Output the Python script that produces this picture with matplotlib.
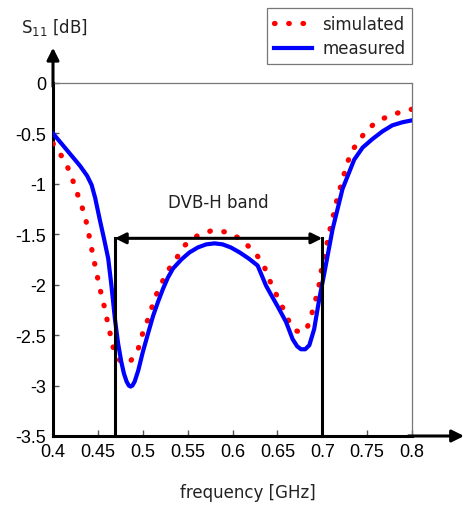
import matplotlib.pyplot as plt

# measured S11 (blue, solid)
meas_f = [0.400, 0.415, 0.430, 0.438, 0.443, 0.447, 0.452, 0.457, 0.4615, 0.465,
          0.469, 0.4725, 0.476, 0.479, 0.482, 0.4845, 0.4865, 0.4885, 0.491, 0.495,
          0.500, 0.506, 0.5115, 0.517, 0.5226, 0.528, 0.5337, 0.543, 0.552, 0.5615,
          0.5707, 0.580, 0.589, 0.598, 0.608, 0.618, 0.628, 0.6374, 0.643, 0.650,
          0.6597, 0.667, 0.672, 0.6763, 0.681, 0.6856, 0.691, 0.6967, 0.702, 0.7115,
          0.7226, 0.7356, 0.745, 0.756, 0.767, 0.778, 0.789, 0.800]
meas_s11 = [-0.50, -0.66, -0.82, -0.92, -1.01, -1.14, -1.35, -1.55, -1.74, -2.00,
            -2.34, -2.58, -2.76, -2.88, -2.96, -3.00, -3.01, -3.00, -2.96, -2.85,
            -2.67, -2.48, -2.31, -2.17, -2.04, -1.93, -1.84, -1.75, -1.68, -1.63,
            -1.60, -1.59, -1.60, -1.63, -1.68, -1.74, -1.81, -2.01, -2.10, -2.21,
            -2.37, -2.54, -2.61, -2.64, -2.64, -2.60, -2.44, -2.14, -1.90, -1.45,
            -1.05, -0.76, -0.64, -0.555, -0.48, -0.42, -0.39, -0.37]

# simulated S11 (red, dotted)
sim_f = [0.400, 0.4115, 0.419, 0.4245, 0.430, 0.4356, 0.439, 0.445, 0.4485, 0.452,
         0.456, 0.4596, 0.4633, 0.467, 0.4744, 0.480, 0.4856, 0.4948, 0.500, 0.508,
         0.513, 0.5207, 0.528, 0.5374, 0.5467, 0.5615, 0.578, 0.595, 0.6096, 0.6226,
         0.6337, 0.640, 0.6467, 0.654, 0.6615, 0.670, 0.676, 0.682, 0.6874, 0.692,
         0.696, 0.6985, 0.704, 0.7096, 0.7133, 0.717, 0.722, 0.7263, 0.732, 0.7404,
         0.750, 0.7633, 0.779, 0.795, 0.800]
sim_s11 = [-0.60, -0.75, -0.885, -1.03, -1.17, -1.315, -1.46, -1.73, -1.88, -2.03,
           -2.17, -2.32, -2.47, -2.62, -2.75, -2.78, -2.77, -2.64, -2.48, -2.29,
           -2.14, -1.99, -1.86, -1.74, -1.61, -1.51, -1.46, -1.48, -1.55, -1.66,
           -1.78, -1.93, -2.06, -2.19, -2.34, -2.455, -2.47, -2.455, -2.32, -2.17,
           -2.03, -1.88, -1.65, -1.41, -1.28, -1.13, -0.98, -0.84, -0.687, -0.58,
           -0.46, -0.37, -0.31, -0.27, -0.26]

band = [0.469, 0.700]
band_level = -1.54

xticks = [0.4, 0.45, 0.5, 0.55, 0.6, 0.65, 0.7, 0.75, 0.8]
yticks = [0, -0.5, -1, -1.5, -2, -2.5, -3, -3.5]

fig = plt.figure(figsize=(4.65, 5.06), dpi=100)
ax = fig.add_axes([53 / 465, 69 / 506, 359 / 465, 353 / 506])

ax.plot(sim_f, sim_s11, color='red', lw=3.8, linestyle=(0, (0.1, 2.6)),
        dash_capstyle='round', label='simulated', zorder=3)
ax.plot(meas_f, meas_s11, color='blue', lw=3.0, label='measured', zorder=4,
        solid_joinstyle='round')

ax.set_xlim(0.4, 0.8)
ax.set_ylim(-3.5, 0)
ax.set_xticks(xticks)
ax.set_xticklabels([f'{v:g}' for v in xticks])
ax.set_yticks(yticks)
ax.set_yticklabels([f'{v:g}' for v in yticks])
ax.tick_params(direction='in', length=4, width=1, color='#555555',
               labelsize=13, pad=5)
for lab in ax.get_xticklabels() + ax.get_yticklabels():
    lab.set_fontfamily('Liberation Sans')

for s in ['left', 'bottom']:
    ax.spines[s].set_linewidth(2.2)
    ax.spines[s].set_color('black')
for s in ['top', 'right']:
    ax.spines[s].set_linewidth(0.9)
    ax.spines[s].set_color('#777777')

# axis arrows
ax.annotate('', xy=(0, 1.10), xytext=(0, 0.99), xycoords='axes fraction',
            arrowprops=dict(arrowstyle='-|>', color='black', lw=2.2,
                            mutation_scale=18, shrinkA=0, shrinkB=0),
            annotation_clip=False)
ax.annotate('', xy=(1.145, 0), xytext=(0.99, 0), xycoords='axes fraction',
            arrowprops=dict(arrowstyle='-|>', color='black', lw=2.2,
                            mutation_scale=18, shrinkA=0, shrinkB=0),
            annotation_clip=False)

# DVB-H band
for f in band:
    ax.plot([f, f], [-3.5, band_level], color='black', lw=2.2, zorder=5,
            clip_on=False)
ax.annotate('', xy=(band[0], band_level), xytext=(band[1], band_level),
            arrowprops=dict(arrowstyle='<|-|>', color='black', lw=2.2,
                            mutation_scale=16, shrinkA=0, shrinkB=0),
            zorder=5)
ax.text(0.5844, -1.18, 'DVB-H band', ha='center', va='center', fontsize=12,
        color='#222222')

ax.text(0.543, -0.159, 'frequency [GHz]', transform=ax.transAxes,
        ha='center', va='center', fontsize=12, color='#222222')
ax.text(0.004, 1.161, 'S$_{11}$ [dB]', transform=ax.transAxes,
        ha='center', va='center', fontsize=12, color='#222222')

leg = ax.legend(loc='upper right', bbox_to_anchor=(412 / 465, 1 - 9 / 506),
                bbox_transform=fig.transFigure, borderaxespad=0, fancybox=False,
                edgecolor='#777777', framealpha=1, fontsize=12, handlelength=2.3,
                handletextpad=0.6, borderpad=0.4, labelspacing=0.4)
leg.get_frame().set_linewidth(0.9)
for t in leg.get_texts():
    t.set_color('#222222')

fig.savefig('out.png', dpi=100)
